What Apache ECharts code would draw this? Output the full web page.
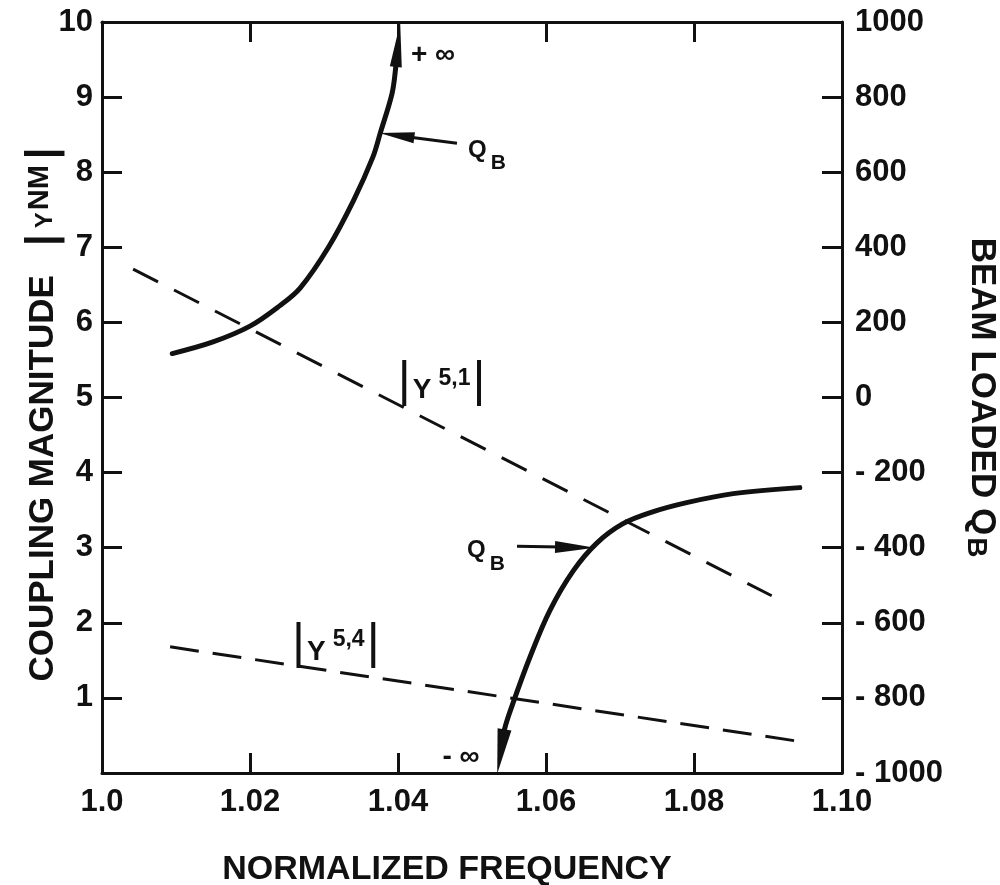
<!DOCTYPE html>
<html><head><meta charset="utf-8">
<script src="https://cdn.jsdelivr.net/npm/echarts@6/dist/echarts.min.js"></script>
<style>html,body{margin:0;padding:0;background:#fff}#c{width:1000px;height:885px}</style>
</head><body><div id="c"></div>
<script>
// ---- data ----
const xTickLabels = ['1.0', '1.02', '1.04', '1.06', '1.08', '1.10'];
const leftTickLabels = ['', '1', '2', '3', '4', '5', '6', '7', '8', '9', '10'];
const rightTickLabels = ['- 1000', '- 800', '- 600', '- 400', '- 200', '0', '200', '400', '600', '800', '1000'];

// |Y 5,1| and |Y 5,4| (left axis, coupling magnitude)
const y51 = [[1.0042, 6.71], [1.0905, 2.36]];
const y54 = [[1.0092, 1.68], [1.0936, 0.43]];

// Beam loaded Q_B (right axis)
const qbUpper = [[1.0095, 117], [1.0150, 148], [1.0200, 190], [1.0240, 244], [1.0268, 292],
  [1.0306, 400], [1.0340, 525], [1.0366, 640], [1.0376, 704], [1.0392, 810], [1.0397, 880], [1.0400, 939]];
const qbLower = [[1.0539, -943], [1.0544, -883], [1.0555, -816], [1.0578, -693], [1.0605, -568],
  [1.0637, -461], [1.0669, -387], [1.0704, -336], [1.0740, -307], [1.0790, -280], [1.0853, -256], [1.0943, -240]];

const INK = '#111';
const FONT = 'Liberation Sans';

const chart = echarts.init(document.getElementById('c'), null, {renderer: 'canvas'});

function arrowSeg(a, b, w, h, width) {
  return [
    {coord: a, symbol: 'none'},
    {coord: b, symbol: 'triangle', symbolSize: [w, h], lineStyle: {width: width}}
  ];
}
function textMark(coord, formatter, rich, size) {
  return {
    coord: coord,
    label: {show: true, position: 'inside', formatter: formatter, color: INK,
      fontFamily: FONT, fontSize: size || 24, fontWeight: 'bold', rich: rich || {}}
  };
}
const markBase = {
  symbol: 'rect', symbolSize: 1, silent: true,
  itemStyle: {color: 'rgba(0,0,0,0)'}
};
const yRich = {
  bar: {fontFamily: FONT, fontSize: 50, fontWeight: 'normal', color: INK},
  y: {fontFamily: FONT, fontSize: 28, fontWeight: 'bold', color: INK, padding: [16, 2, 0, 2]},
  sup: {fontFamily: FONT, fontSize: 23, fontWeight: 'bold', color: INK, padding: [0, 2, 8, 5]}
};
const qRich = {
  q: {fontFamily: FONT, fontSize: 24, fontWeight: 'bold', color: INK},
  b: {fontFamily: FONT, fontSize: 21, fontWeight: 'bold', color: INK, padding: [26, 0, 0, 4]}
};
const axisBase = {
  axisLine: {show: true, onZero: false, lineStyle: {color: INK, width: 3}},
  axisTick: {show: true, inside: true, length: 20, lineStyle: {color: INK, width: 3}},
  splitLine: {show: false},
  nameMoveOverlap: false
};

const option = {
  backgroundColor: '#fff',
  animation: false,
  grid: {left: 102, right: 158, top: 22, bottom: 112, containLabel: false, outerBoundsMode: 'none'},
  xAxis: [Object.assign({}, axisBase, {
    type: 'value', min: 1.0, max: 1.1, interval: 0.02, position: 'bottom',
    axisLabel: {
      color: INK, fontFamily: FONT, fontSize: 31, fontWeight: 'bold', margin: 14,
      formatter: v => xTickLabels[Math.round((v - 1.0) / 0.02)]
    },
    name: 'NORMALIZED FREQUENCY', nameLocation: 'middle', nameGap: 80,
    nameTextStyle: {color: INK, fontFamily: FONT, fontSize: 34, fontWeight: 'bold', padding: [0, 50, 0, 0]}
  }), Object.assign({}, axisBase, {
    type: 'value', min: 1.0, max: 1.1, interval: 0.02, position: 'top',
    axisLabel: {show: false}
  })],
  yAxis: [Object.assign({}, axisBase, {
    type: 'value', min: 0, max: 10, interval: 1, position: 'left',
    axisLabel: {
      color: INK, fontFamily: FONT, fontSize: 31, fontWeight: 'bold', margin: 9,
      formatter: v => leftTickLabels[Math.round(v)]
    },
    name: '{t|COUPLING MAGNITUDE}   {bar||}{y|Y}{sup|NM}{bar||}',
    nameLocation: 'middle', nameRotate: 90, nameGap: 38,
    nameTextStyle: {
      color: INK, fontFamily: FONT, fontSize: 35, fontWeight: 'bold', padding: [0, 34, 0, 0],
      rich: {
        t: {fontFamily: FONT, fontSize: 35, fontWeight: 'bold', color: INK},
        bar: {fontFamily: FONT, fontSize: 42, fontWeight: 'bold', color: INK},
        y: {fontFamily: FONT, fontSize: 24, fontWeight: 'bold', color: INK, padding: [4, 2, 0, 6]},
        sup: {fontFamily: FONT, fontSize: 29, fontWeight: 'bold', color: INK, padding: [0, 6, 6, 0]}
      }
    }
  }), Object.assign({}, axisBase, {
    type: 'value', min: -1000, max: 1000, interval: 200, position: 'right',
    axisLabel: {
      color: INK, fontFamily: FONT, fontSize: 31, fontWeight: 'bold', margin: 13,
      formatter: v => rightTickLabels[Math.round((v + 1000) / 200)]
    },
    name: '{t|BEAM LOADED Q}{sub|B}',
    nameLocation: 'middle', nameRotate: -90, nameGap: 120,
    nameTextStyle: {
      color: INK, fontFamily: FONT, fontSize: 35, fontWeight: 'bold',
      rich: {
        t: {fontFamily: FONT, fontSize: 35, fontWeight: 'bold', color: INK},
        sub: {fontFamily: FONT, fontSize: 28, fontWeight: 'bold', color: INK, padding: [12, 0, 0, 2]}
      }
    }
  })],
  series: [{
    name: '|Y 5,1|', type: 'line', xAxisIndex: 0, yAxisIndex: 0, data: y51,
    symbol: 'none', silent: true,
    lineStyle: {color: INK, width: 3, type: [28, 18]},
    markPoint: Object.assign({}, markBase, {
      data: [textMark([1.0459, 5.2], '{bar||}{y|Y}{sup|5,1}{bar||}', yRich)]
    })
  }, {
    name: '|Y 5,4|', type: 'line', xAxisIndex: 0, yAxisIndex: 0, data: y54,
    symbol: 'none', silent: true,
    lineStyle: {color: INK, width: 3, type: [29, 14]},
    markPoint: Object.assign({}, markBase, {
      data: [textMark([1.0316, 1.72], '{bar||}{y|Y}{sup|5,4}{bar||}', yRich)]
    })
  }, {
    name: 'QB+', type: 'line', xAxisIndex: 0, yAxisIndex: 1, data: qbUpper,
    symbol: 'none', silent: true, smooth: 0.35,
    lineStyle: {color: INK, width: 5, cap: 'round'},
    markLine: {
      silent: true, animation: false, label: {show: false},
      lineStyle: {color: INK, type: 'solid', width: 3},
      data: [
        arrowSeg([1.0397, 880], [1.0400, 939], 12, 44, 5),
        arrowSeg([1.04797, 677], [1.03985, 698], 11, 35, 3)
      ]
    },
    markPoint: Object.assign({}, markBase, {
      data: [
        textMark([1.05203, 658], '{q|Q}{b|B}', qRich),
        textMark([1.04473, 912], '+ ∞', {}, 28)
      ]
    })
  }, {
    name: 'QB-', type: 'line', xAxisIndex: 0, yAxisIndex: 1, data: qbLower,
    symbol: 'none', silent: true, smooth: 0.35,
    lineStyle: {color: INK, width: 5, cap: 'round'},
    markLine: {
      silent: true, animation: false, label: {show: false},
      lineStyle: {color: INK, type: 'solid', width: 3},
      data: [
        arrowSeg([1.0544, -883], [1.0539, -943], 14, 45, 5),
        arrowSeg([1.05608, -396], [1.06392, -399], 12, 40, 3)
      ]
    },
    markPoint: Object.assign({}, markBase, {
      data: [
        textMark([1.05189, -408], '{q|Q}{b|B}', qRich),
        textMark([1.04851, -957], '- ∞', {}, 28)
      ]
    })
  }]
};
chart.setOption(option);
</script>
</body></html>
